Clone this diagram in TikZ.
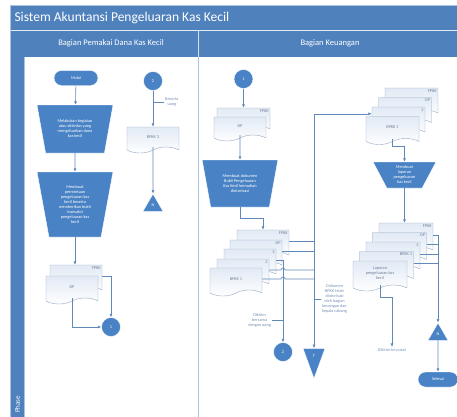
\documentclass[tikz,border=0pt]{standalone}
\usepackage{fontspec}
\setmainfont{Carlito}
\usetikzlibrary{shapes.geometric,shapes.symbols,arrows.meta}

\definecolor{hdrblue}{RGB}{79,129,189}
\definecolor{shapeblue}{RGB}{74,131,197}
\definecolor{lineblue}{RGB}{96,137,186}
\definecolor{laneline}{RGB}{172,194,222}
\definecolor{docline}{RGB}{150,170,196}
\definecolor{doctext}{RGB}{112,128,152}
\definecolor{doctop}{RGB}{226,234,245}
\definecolor{notetext}{RGB}{120,145,180}

\newcommand{\tinytext}{\fontsize{4.3}{5}\selectfont}

\tikzset{
    flow/.style={draw=lineblue, line width=0.6pt, -{Latex[length=3.5pt,width=3pt]}},
    link/.style={draw=lineblue, line width=0.6pt},
    term/.style={fill=shapeblue, draw=white, rounded corners=7.5pt, minimum width=44pt,
        minimum height=15pt, inner sep=0pt, text=white, font=\tinytext},
    manual/.style={trapezium, shape border rotate=180, trapezium stretches=true,
        fill=shapeblue, draw=white, inner sep=1pt, text=white, font=\tinytext, align=center},
    conn/.style={circle, fill=shapeblue, draw=white, minimum size=19pt, inner sep=0pt,
        text=white, font=\tinytext},
    offpage/.style={regular polygon, regular polygon sides=3, minimum size=23pt, inner sep=0pt,
        fill=shapeblue, draw=white, text=white, font=\tinytext},
    docbox/.style={tape, tape bend top=none, tape bend bottom=in and out, tape bend height=6pt,
        draw=docline, top color=doctop, bottom color=white, minimum width=52pt,
        minimum height=28pt, inner sep=0pt, text=doctext, font=\tinytext, align=center},
    doclabel/.style={anchor=north east, inner sep=1.5pt, text=doctext, font=\tinytext},
    note/.style={text=notetext, font=\tinytext, align=center, inner sep=1pt}
}

\begin{document}
\begin{tikzpicture}[x=1pt, y=-1pt]
    \useasboundingbox (0,0) rectangle (457,416);
    \clip (0,0) rectangle (457,416);

    % Swimlane frame
    \fill[hdrblue] (10,5) rectangle (462,57);
    \fill[hdrblue] (10,30) rectangle (24,420);
    \draw[white!85!hdrblue, line width=0.8pt] (10,30) -- (462,30);
    \draw[white!75!hdrblue, line width=0.6pt] (198,30) -- (198,57);
    \draw[laneline, line width=1.2pt] (24.5,57) -- (24.5,420);
    \draw[laneline, line width=1pt] (198,57) -- (198,420);
    \draw[laneline] (10,5) rectangle (462,420);

    \node[anchor=west, text=white, font=\fontsize{13.5}{15}\selectfont] (title) at (11,17.5) {Sistem Akuntansi Pengeluaran Kas Kecil};
    \node[text=white, font=\fontsize{8.5}{10}\selectfont] (laneA) at (111,43.5) {Bagian Pemakai Dana Kas Kecil};
    \node[text=white, font=\fontsize{8.5}{10}\selectfont] (laneB) at (330,43.5) {Bagian Keuangan};
    \node[rotate=90, anchor=west, text=white, font=\fontsize{7}{8}\selectfont, inner sep=0pt] (phase) at (17.5,413) {Phase};

    % Bagian Pemakai Dana Kas Kecil
    \node[term] (mulai) at (76,78) {Mulai};
    \node[manual, minimum width=76pt, minimum height=48pt, trapezium angle=75] (actA) at (75,129)
        {Melakukan kegiatan\\atau aktivitas yang\\mengeluarkan dana\\kas kecil};
    \node[manual, minimum width=76pt, minimum height=65pt, trapezium angle=79] (actB) at (75,204.5)
        {Membuat\\permintaan\\pengeluaran kas\\kecil beserta\\memberikan bukti\\transaksi\\pengeluaran kas\\kecil};
    \node[docbox, label={[doclabel]north east:FPKK}] (fpkkL) at (76,276) {};
    \node[docbox] (dpL) at (72,287) {DP};
    \node[conn] (oneL) at (111,327) {1};

    \node[conn] (twoL) at (153,81) {2};
    \node[note, anchor=west] (beserta) at (164,102) {Beserta\\uang};
    \node[docbox, minimum height=26pt] (bpkkL) at (153,137) {BPKK 3};
    \node[offpage] (nL) at (153,205.5) {N};

    \draw[flow] (mulai) -- (actA);
    \draw[flow] (actA) -- (actB);
    \draw[flow] (actB.south) -- (actB.south |- fpkkL.north);
    \draw[flow] (fpkkL.east) -| (oneL.north);
    \draw[flow] (dpL.south) |- (oneL.west);
    \draw[flow] (twoL) -- (bpkkL);
    \draw[link] (beserta.west) -- (beserta.west -| twoL.south);
    \draw[flow] (bpkkL.south) -- (nL.north);

    % Bagian Keuangan, kolom kiri
    \node[conn] (oneR) at (243.5,79) {1};
    \node[docbox, minimum width=53pt, minimum height=24pt, label={[doclabel]north east:FPKK}] (fpkkR) at (243.5,117) {};
    \node[docbox, minimum height=24pt] (dpR) at (240,126) {DP};
    \node[manual, minimum width=76pt, minimum height=47pt, trapezium angle=75] (bktR) at (240,183.5)
        {Membuat dokumen\\Bukti Pengeluaran\\Kas Kecil kemudian\\diotorisasi};

    \node[docbox, label={[doclabel]north east:FPKK}] (fpkkA) at (263,241) {};
    \node[docbox, label={[doclabel]north east:DP}] (dpA) at (256,251) {};
    \node[docbox, label={[doclabel]north east:3}] (tigaA) at (250,260) {};
    \node[docbox, label={[doclabel]north east:2}] (duaA) at (243,270) {};
    \node[docbox] (bpkkA) at (236,279) {BPKK 1};

    \node[conn] (twoR) at (283,352) {2};
    \node[note, anchor=east] (bersama) at (272,320) {Dikirim\\bersama\\dengan uang};
    \node[isosceles triangle, isosceles triangle stretches, shape border rotate=-90,
        minimum width=22pt, minimum height=30pt, inner sep=0pt, fill=shapeblue, draw=white,
        text=white, font=\tinytext] (tR) at (314,356) {T};
    \node[note, anchor=west] (otorisasi) at (321,299) {Dokumen\\BPKK telah\\diotorisasi\\oleh bagian\\keuangan dan\\kepala cabang};

    \draw[flow] (oneR) -- (fpkkR);
    \draw[flow] (dpR.south) -- (bktR.north);
    \draw[flow] (bktR.south) -- ++(0,11) -| (fpkkA.north);
    \draw[flow] (fpkkA.east) -| (tR.north);
    \draw[link] (dpA.east) -- (dpA.east -| tR.north);
    \draw[flow] (tigaA.east) -| (twoR.north);
    \draw[link] (duaA.east) -- ([xshift=-2pt]duaA.east -| twoR.north) arc (180:0:2pt) -- (duaA.east -| tR.north);
    \draw[link] (bpkkA.east) -- ([xshift=-2pt]bpkkA.east -| twoR.north) arc (180:0:2pt) -- (bpkkA.east -| tR.north);
    \draw[link] (bersama.east) -- (bersama.east -| twoR.north);
    \draw[link] (otorisasi.west) -- (otorisasi.west -| tR.north);

    % Bagian Keuangan, kolom kanan
    \node[docbox, minimum width=53pt, label={[doclabel]north east:FPKK}] (fpkkB) at (411.5,99) {};
    \node[docbox, minimum width=53pt, label={[doclabel]north east:DP}] (dpB) at (405,108.5) {};
    \node[docbox, minimum width=53pt, label={[doclabel]north east:2}] (duaB) at (398.5,118) {};
    \node[docbox, minimum width=53pt] (bpkkB) at (392.5,127.5) {BPKK 1};
    \node[manual, minimum width=63pt, minimum height=26pt, trapezium angle=65] (lapR) at (404.5,175)
        {Membuat\\laporan\\pengeluaran\\kas kecil};

    \node[docbox, minimum width=54pt, minimum height=30pt, label={[doclabel]north east:FPKK}] (fpkkC) at (406,235) {};
    \node[docbox, minimum width=54pt, minimum height=30pt, label={[doclabel]north east:DP}] (dpC) at (399.5,244.5) {};
    \node[docbox, minimum width=54pt, minimum height=30pt, label={[doclabel]north east:2}] (duaC) at (393,254) {};
    \node[docbox, minimum width=54pt, minimum height=30pt, label={[doclabel]north east:BPKK 1}] (bpkkC) at (386.5,263.5) {};
    \node[docbox, minimum width=54pt, minimum height=30pt] (lapC) at (380,273) {Laporan\\pengeluaran kas\\kecil};
    \node[note] (pusat) at (392,350) {Dikirim ke pusat};
    \node[offpage] (nR) at (438,334.5) {N};
    \node[term, minimum width=40pt] (selesai) at (438,379.5) {Selesai};

    \draw[flow] (fpkkA.east -| tR.north) |- ([yshift=-7pt]duaB.north west);
    \draw[flow] (bpkkB.south) -- ++(0,8) -| (lapR.north);
    \draw[flow] (lapR.south) -- (lapR.south |- fpkkC.north);
    \draw[flow] (fpkkC.east) -| (nR.north);
    \draw[link] (dpC.east) -- (dpC.east -| nR.north);
    \draw[link] (duaC.east) -- (duaC.east -| nR.north);
    \draw[link] (bpkkC.east) -- (bpkkC.east -| nR.north);
    \draw[flow] (lapC.south) -- ++(0,12) -| (pusat.north);
    \draw[flow] (nR.south) -- (selesai.north);

\end{tikzpicture}
\end{document}
